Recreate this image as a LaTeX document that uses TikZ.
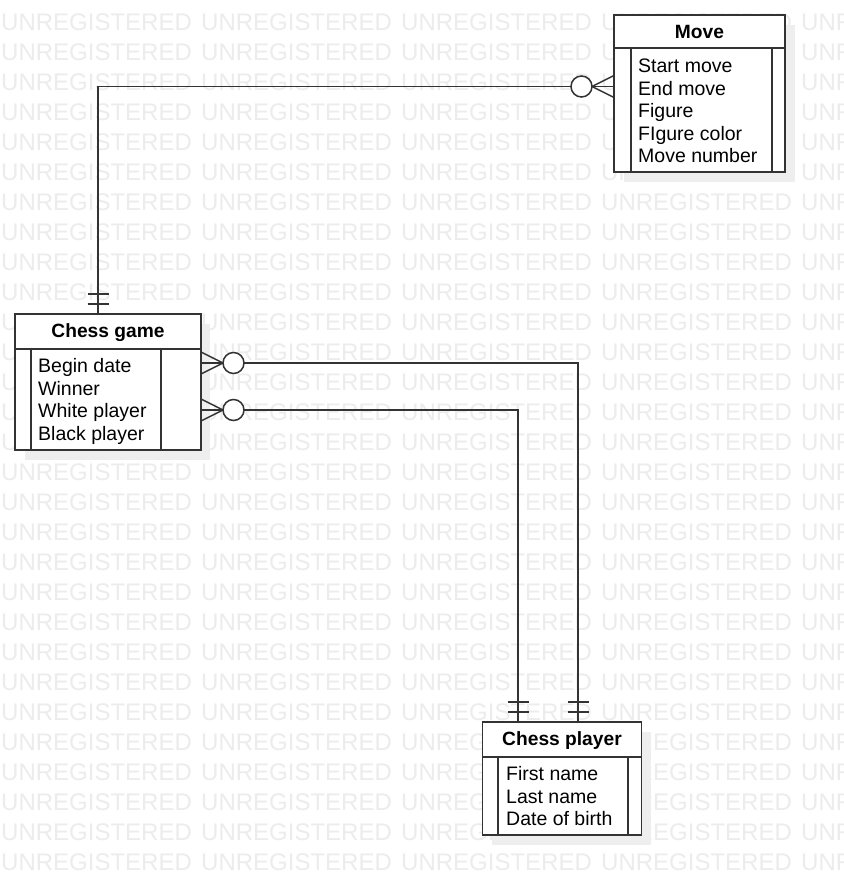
\documentclass[tikz,border=0pt]{standalone}
\usepackage{fontspec}
\setmainfont{Liberation Sans}
\definecolor{wmc}{RGB}{236,236,236}
\definecolor{shc}{RGB}{238,238,238}
\definecolor{lnc}{RGB}{51,51,51}
\tikzset{
  wm/.style={text=wmc, font=\fontsize{24}{24}\selectfont, inner sep=0pt, anchor=west},
  ebox/.style={draw=lnc, line width=1.7pt, fill=white, inner sep=0pt},
  ttl/.style={inner sep=0pt, anchor=base, font=\bfseries\fontsize{19.2}{19.2}\selectfont},
  attr/.style={inner sep=0pt, anchor=base west, font=\fontsize{19.5}{19.5}\selectfont},
  conn/.style={draw=lnc, line width=1.5pt},
  inner/.style={draw=lnc, line width=1.5pt},
  shadowbox/.style={fill=shc},
}
\begin{document}
\begin{tikzpicture}[x=1pt,y=-1pt]
\useasboundingbox[fill=white] (0,0) rectangle (844,895);
% watermark
\foreach \r in {0,...,28}{
  \foreach \c in {0,...,4}{
    \node[wm] at (\c*200+1, 22+\r*30) {UNREGISTERED};
  }
}
% shadows
\fill[shadowbox] (624,25) rectangle (795,182);
\fill[shadowbox] (25,324) rectangle (210,460);
\fill[shadowbox] (492,732) rectangle (651,845);

% connectors (lines first)
\coordinate (c1a) at (98,315);
\coordinate (c1b) at (98,86.5);
\coordinate (c1c) at (614,86.5);
\draw[conn] (c1a) -- (c1b) -- (c1c);
\coordinate (c2a) at (201,363);
\coordinate (c2b) at (578,363);
\coordinate (c2c) at (578,722);
\draw[conn] (c2a) -- (c2b) -- (c2c);
\coordinate (c3a) at (201,410);
\coordinate (c3b) at (518,410);
\coordinate (c3c) at (518,722);
\draw[conn] (c3a) -- (c3b) -- (c3c);

% Move entity
\node[ebox, minimum width=171pt, minimum height=157pt] (move) at (699.5,93.5) {};
\draw[inner] (614,48) -- (785,48);
\draw[inner] (631,48) -- (631,172) (772,48) -- (772,172);
\node[ttl] (movet) at (699.5,38) {Move};
\node[attr] (m1) at (638,72) {Start move};
\node[attr] (m2) at (638,95) {End move};
\node[attr] (m3) at (638,117) {Figure};
\node[attr] (m4) at (638,140) {FIgure color};
\node[attr] (m5) at (638,162) {Move number};

% Chess game entity
\node[ebox, minimum width=186pt, minimum height=136pt] (game) at (108,382) {};
\draw[inner] (15,349) -- (201,349);
\draw[inner] (31,349) -- (31,450) (161,349) -- (161,450);
\node[ttl] (gamet) at (108,337) {Chess game};
\node[attr] (g1) at (38,372) {Begin date};
\node[attr] (g2) at (38,395) {Winner};
\node[attr] (g3) at (38,417) {White player};
\node[attr] (g4) at (38,440) {Black player};

% Chess player entity
\node[ebox, minimum width=159pt, minimum height=113pt] (player) at (562,778.5) {};
\draw[inner] (482.5,757) -- (641.5,757);
\draw[inner] (498,757) -- (498,835) (628,757) -- (628,835);
\node[ttl] (playert) at (562,745) {Chess player};
\node[attr] (p1) at (506,780) {First name};
\node[attr] (p2) at (506,803) {Last name};
\node[attr] (p3) at (506,825) {Date of birth};

% connector ends
% 1: one-and-only-one at game, zero-or-many at move
\draw[conn] (87.5,294) -- (108.5,294) (87.5,304) -- (108.5,304);
\draw[conn] (614,75.5) -- (592,86.5) -- (614,97.5);
\draw[conn, fill=white] (581.5,86.5) circle[radius=10.5pt];
% 2
\draw[conn] (201,352) -- (223,363) -- (201,374);
\draw[conn, fill=white] (233.5,363) circle[radius=10.5pt];
\draw[conn] (567.5,702) -- (588.5,702) (567.5,712) -- (588.5,712);
% 3
\draw[conn] (201,399) -- (223,410) -- (201,421);
\draw[conn, fill=white] (233.5,410) circle[radius=10.5pt];
\draw[conn] (507.5,702) -- (528.5,702) (507.5,712) -- (528.5,712);
\end{tikzpicture}
\end{document}
